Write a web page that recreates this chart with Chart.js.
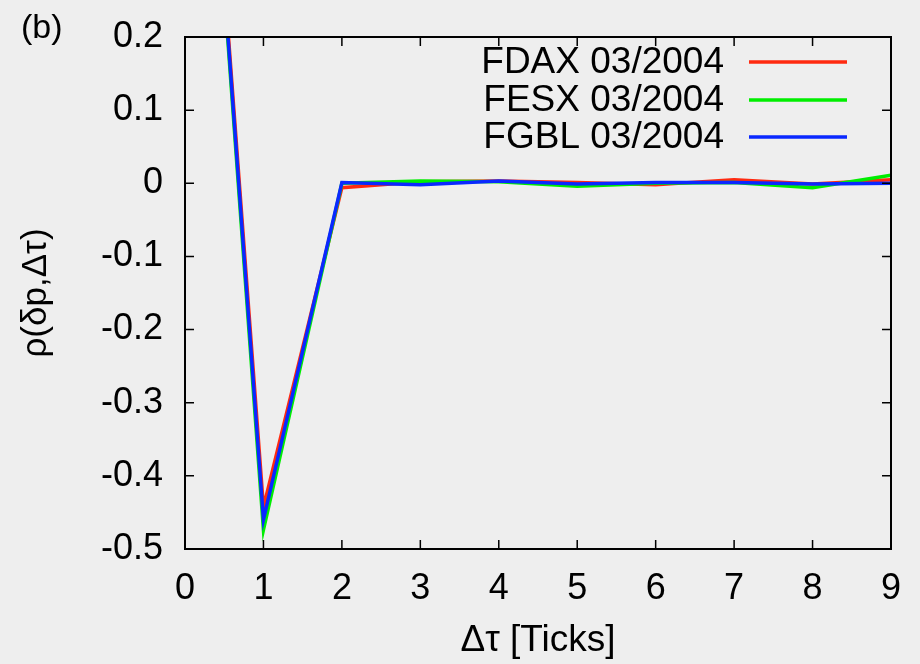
<!DOCTYPE html>
<html>
<head>
<meta charset="utf-8">
<script src="https://cdn.jsdelivr.net/npm/chart.js@4.4.1/dist/chart.umd.min.js"></script>
<style>
  html, body { margin: 0; padding: 0; background: #eeeeee; }
  #wrap { width: 920px; height: 664px; }
</style>
</head>
<body>
<div id="wrap"><canvas id="c" width="920" height="664"></canvas></div>
<script>
// Autocorrelation of price changes versus lag, three futures contracts
const lags = [0, 1, 2, 3, 4, 5, 6, 7, 8, 9];
const fdax = [1, -0.443, -0.006, 0.002, 0.003, 0.001, -0.002, 0.005, -0.001, 0.005];
const fesx = [1, -0.474, 0.000, 0.003, 0.002, -0.004, 0.000, 0.001, -0.006, 0.011];
const fgbl = [1, -0.460, 0.001, -0.002, 0.003, -0.001, 0.001, 0.001, -0.001, 0.000];
const seriesNames = ['FDAX 03/2004', 'FESX 03/2004', 'FGBL 03/2004'];
const seriesColors = ['#ff2a10', '#00ee00', '#0a28ff'];
const xTickValues = [0, 1, 2, 3, 4, 5, 6, 7, 8, 9];
const yTickValues = [-0.5, -0.4, -0.3, -0.2, -0.1, 0, 0.1, 0.2];
const xTitle = 'Δτ [Ticks]';
const yTitle = 'ρ(δp,Δτ)';
const panelTag = '(b)';

const FONT = '"Liberation Sans", Arial, Helvetica, sans-serif';

const toPoints = (vals) => lags.map((x, i) => ({ x: x, y: vals[i] }));
const seriesValues = [fdax, fesx, fgbl];

const datasets = seriesValues.map((vals, i) => ({
  label: seriesNames[i],
  data: toPoints(vals),
  borderColor: seriesColors[i],
  backgroundColor: seriesColors[i],
  borderWidth: 3.5,
  pointRadius: 0,
  tension: 0,
  clip: 0,
  order: 3 - i
}));

// Background, frame with inward ticks on all four sides, legend and titles
const decorations = {
  id: 'decorations',
  beforeDraw(chart) {
    const ctx = chart.ctx;
    ctx.save();
    ctx.fillStyle = '#eeeeee';
    ctx.fillRect(0, 0, chart.width, chart.height);
    ctx.restore();
  },
  afterDatasetsDraw(chart) {
    const ctx = chart.ctx;
    const a = chart.chartArea;
    const xs = chart.scales.x, ys = chart.scales.y;
    const tl = 9;
    ctx.save();
    ctx.strokeStyle = '#000';
    ctx.lineWidth = 1.5;
    ctx.beginPath();
    xTickValues.forEach(v => {
      const px = xs.getPixelForValue(v);
      ctx.moveTo(px, a.bottom); ctx.lineTo(px, a.bottom - tl);
      ctx.moveTo(px, a.top); ctx.lineTo(px, a.top + tl);
    });
    yTickValues.forEach(v => {
      const py = ys.getPixelForValue(v);
      ctx.moveTo(a.left, py); ctx.lineTo(a.left + tl, py);
      ctx.moveTo(a.right, py); ctx.lineTo(a.right - tl, py);
    });
    ctx.stroke();
    ctx.lineWidth = 2;
    ctx.strokeRect(a.left, a.top, a.right - a.left, a.bottom - a.top);

    // legend: label text on the left, line sample on the right
    ctx.font = '37px ' + FONT;
    ctx.fillStyle = '#000';
    ctx.textAlign = 'right';
    ctx.textBaseline = 'middle';
    const rows = [62, 100, 137];
    chart.data.datasets.forEach((ds, i) => {
      const y = rows[i];
      ctx.fillText(ds.label, 724, y + 1);
      ctx.strokeStyle = ds.borderColor;
      ctx.lineWidth = 3.5;
      ctx.beginPath();
      ctx.moveTo(749, y); ctx.lineTo(847, y);
      ctx.stroke();
    });

    // axis titles and panel tag
    ctx.fillStyle = '#000';
    ctx.font = '37px ' + FONT;
    ctx.textAlign = 'center';
    ctx.textBaseline = 'middle';
    ctx.fillText(xTitle, (a.left + a.right) / 2, 641);
    ctx.font = '35px ' + FONT;
    ctx.save();
    ctx.translate(36, 293);
    ctx.rotate(-Math.PI / 2);
    ctx.fillText(yTitle, 0, 0);
    ctx.restore();
    ctx.textAlign = 'left';
    ctx.font = '34px ' + FONT;
    ctx.fillText(panelTag, 21, 29);
    ctx.restore();
  }
};

new Chart(document.getElementById('c'), {
  type: 'line',
  data: { datasets: datasets },
  options: {
    responsive: false,
    animation: false,
    devicePixelRatio: 1,
    layout: { padding: { left: 0, right: 29, top: 37, bottom: 0 } },
    plugins: { legend: { display: false }, tooltip: { enabled: false } },
    scales: {
      x: {
        type: 'linear',
        min: 0, max: 9,
        afterFit: (s) => { s.height = 115; s.paddingLeft = 0; s.paddingRight = 0; },
        afterBuildTicks: (s) => { s.ticks = xTickValues.map(v => ({ value: v })); },
        grid: { display: false, drawTicks: false },
        border: { display: false },
        ticks: {
          padding: 18,
          color: '#000',
          font: { family: FONT, size: 36 },
          callback: (v) => String(v)
        }
      },
      y: {
        type: 'linear',
        min: -0.5, max: 0.2,
        afterFit: (s) => { s.width = 185; s.paddingTop = 0; s.paddingBottom = 0; },
        afterBuildTicks: (s) => { s.ticks = yTickValues.map(v => ({ value: v })); },
        grid: { display: false, drawTicks: false },
        border: { display: false },
        ticks: {
          padding: 22,
          color: '#000',
          font: { family: FONT, size: 36 },
          callback: (v) => String(Number(v.toFixed(1)))
        }
      }
    }
  },
  plugins: [decorations]
});
</script>
</body>
</html>
